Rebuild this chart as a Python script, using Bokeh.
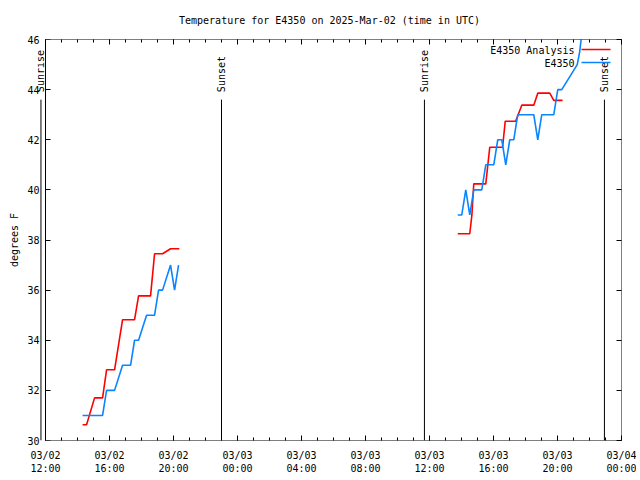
import math
import pandas as pd
from bokeh.plotting import figure
from bokeh.core.properties import value
from bokeh.models import (Range1d, FixedTicker, LinearAxis, Label, LabelSet, Title,
                          Arrow, ColumnDataSource, BoxAnnotation)
from bokeh.embed import file_html
from bokeh.resources import INLINE

# ---------------- data ----------------
START = "2025-03-02 12:00"
END = "2025-03-04 00:00"

analysis_day1_time = ["2025-03-02 14:19", "2025-03-02 14:34", "2025-03-02 15:04", "2025-03-02 15:34",
                      "2025-03-02 15:49", "2025-03-02 16:19", "2025-03-02 16:49", "2025-03-02 17:34",
                      "2025-03-02 17:49", "2025-03-02 18:34", "2025-03-02 18:49", "2025-03-02 19:19",
                      "2025-03-02 19:49", "2025-03-02 20:22"]
analysis_day1_temp = [30.63, 30.63, 31.70, 31.70, 32.82, 32.82, 34.82, 34.82,
                      35.77, 35.77, 37.45, 37.45, 37.65, 37.65]

obs_day1_time = ["2025-03-02 14:19", "2025-03-02 15:34", "2025-03-02 15:49", "2025-03-02 16:19",
                 "2025-03-02 16:49", "2025-03-02 17:19", "2025-03-02 17:34", "2025-03-02 17:49",
                 "2025-03-02 18:19", "2025-03-02 18:49", "2025-03-02 19:04", "2025-03-02 19:19",
                 "2025-03-02 19:49", "2025-03-02 20:04", "2025-03-02 20:19"]
obs_day1_temp = [31, 31, 32, 32, 33, 33, 34, 34, 35, 35, 36, 36, 37, 36, 37]

analysis_day2_time = ["2025-03-03 13:46", "2025-03-03 14:31", "2025-03-03 14:39", "2025-03-03 14:46",
                      "2025-03-03 15:31", "2025-03-03 15:46", "2025-03-03 16:34", "2025-03-03 16:44",
                      "2025-03-03 17:23", "2025-03-03 17:46", "2025-03-03 18:31", "2025-03-03 18:46",
                      "2025-03-03 19:31", "2025-03-03 19:46", "2025-03-03 20:19"]
analysis_day2_temp = [38.25, 38.25, 39.0, 40.24, 40.24, 41.70, 41.70, 42.74,
                      42.74, 43.38, 43.38, 43.86, 43.86, 43.57, 43.57]

obs_day2_time = ["2025-03-03 13:46", "2025-03-03 14:01", "2025-03-03 14:16", "2025-03-03 14:31",
                 "2025-03-03 14:46", "2025-03-03 15:16", "2025-03-03 15:31", "2025-03-03 16:01",
                 "2025-03-03 16:16", "2025-03-03 16:31", "2025-03-03 16:46", "2025-03-03 17:01",
                 "2025-03-03 17:16", "2025-03-03 17:31", "2025-03-03 18:31", "2025-03-03 18:46",
                 "2025-03-03 19:01", "2025-03-03 19:46", "2025-03-03 20:01", "2025-03-03 20:16",
                 "2025-03-03 21:14", "2025-03-03 21:23", "2025-03-03 21:32"]
obs_day2_temp = [39, 39, 40, 39, 40, 40, 41, 41, 42, 42, 41, 42, 42, 43, 43, 42,
                 43, 43, 44, 44, 45, 45.5, 46.3]

sun_time = ["2025-03-02 11:43", "2025-03-02 23:00", "2025-03-03 11:41", "2025-03-03 22:56"]
sun_label = ["Sunrise", "Sunset", "Sunrise", "Sunset"]
sun_line_top = 43.6
sun_text_base = 43.9

x_tick_labels = ["03/02\n12:00", "03/02\n16:00", "03/02\n20:00", "03/03\n00:00", "03/03\n04:00",
                 "03/03\n08:00", "03/03\n12:00", "03/03\n16:00", "03/03\n20:00", "03/04\n00:00"]
y_ticks = [30, 32, 34, 36, 38, 40, 42, 44, 46]
Y_MIN, Y_MAX = 30, 46

TITLE = "Temperature for E4350 on 2025-Mar-02 (time in UTC)"
Y_LABEL = "degrees F"
LEGEND = ["E4350 Analysis", "E4350"]
RED = "#ff0000"
BLUE = "#0a84ff"
FONT = "DejaVu Sans Mono"
FS = "10px"

t0 = pd.Timestamp(START)


def hours(ts):
    return [(pd.Timestamp(t) - t0).total_seconds() / 3600.0 for t in ts]


x_end = hours([END])[0]
x_ticks = [4 * i for i in range(len(x_tick_labels))]

# frame is extended 0.5 h left of the time axis so that the first sunrise marker shows
p = figure(width=636, height=476, output_backend="svg", toolbar_location=None,
           x_range=Range1d(-0.5, x_end), y_range=Range1d(Y_MIN, Y_MAX))
p.min_border_left = 37
p.min_border_right = 15
p.min_border_top = 39
p.min_border_bottom = 36
p.outline_line_color = None
p.xgrid.visible = False
p.ygrid.visible = False
p.background_fill_color = "white"
p.border_fill_color = "white"

xt = FixedTicker(ticks=x_ticks, minor_ticks=list(range(0, int(x_end) + 1)))
yt = FixedTicker(ticks=y_ticks, minor_ticks=[])


def style_axis(ax, labels=True):
    ax.axis_line_color = None
    ax.major_tick_in = 5
    ax.major_tick_out = 0
    ax.minor_tick_in = 3
    ax.minor_tick_out = 0
    ax.major_tick_line_color = "black"
    ax.minor_tick_line_color = "black"
    ax.major_label_text_font = FONT
    ax.major_label_text_color = "black"
    if labels:
        ax.major_label_text_font_size = FS
    else:
        ax.major_label_text_font_size = "0px"
        ax.major_label_standoff = 0


xa = p.xaxis[0]
xa.ticker = xt
xa.major_label_overrides = {t: lab for t, lab in zip(x_ticks, x_tick_labels)}
style_axis(xa)
xa.major_label_standoff = 9

# left axis at the frame edge: labels only
ya = p.yaxis[0]
ya.ticker = yt
style_axis(ya)
ya.major_tick_in = 0
ya.major_tick_line_color = None
ya.major_label_standoff = -2

# tick marks on the time-axis start (x = 0)
y_ticks_ax = LinearAxis(ticker=yt, fixed_location=0)
style_axis(y_ticks_ax, labels=False)
p.add_layout(y_ticks_ax, "left")

top_ax = LinearAxis(ticker=xt)
style_axis(top_ax, labels=False)
top_ax.axis_label = TITLE
top_ax.axis_label_text_font = FONT
top_ax.axis_label_text_font_size = FS
top_ax.axis_label_text_font_style = "normal"
top_ax.axis_label_text_color = "black"
top_ax.axis_label_standoff = 14
p.add_layout(top_ax, "above")

right_ax = LinearAxis(ticker=yt)
style_axis(right_ax, labels=False)
p.add_layout(right_ax, "right")

p.add_layout(Title(text=Y_LABEL, align="center", text_font=FONT, text_font_size=FS,
                   text_font_style="normal", text_color="black", standoff=10, offset=0), "left")

# plot border (gnuplot box) spanning the time axis
p.add_layout(BoxAnnotation(left=0, right=x_end, bottom=Y_MIN, top=Y_MAX, fill_alpha=0,
                           line_color="black", line_width=1, line_alpha=1))

# sunrise / sunset markers
sun_x = hours(sun_time)
sun_src = ColumnDataSource(dict(x=sun_x, y0=[Y_MIN] * len(sun_x), y1=[sun_line_top] * len(sun_x),
                                yt=[sun_text_base] * len(sun_x), text=sun_label))
p.add_layout(Arrow(x_start="x", y_start="y0", x_end="x", y_end="y1", source=sun_src,
                   start=None, end=None, line_color="black", line_width=1))
p.add_layout(LabelSet(x="x", y="yt", text="text", source=sun_src, angle=math.pi / 2,
                      text_align="left", text_baseline="middle", text_font=value(FONT),
                      text_font_size=value(FS), text_color="black"))

# data lines
p.line(hours(analysis_day1_time), analysis_day1_temp, line_color=RED, line_width=1.6)
p.line(hours(analysis_day2_time), analysis_day2_temp, line_color=RED, line_width=1.6)
p.line(hours(obs_day1_time), obs_day1_temp, line_color=BLUE, line_width=1.6)
p.line(hours(obs_day2_time), obs_day2_temp, line_color=BLUE, line_width=1.6)

# legend (gnuplot style: text then sample to the right), frame-relative screen units
for i, (name, col) in enumerate(zip(LEGEND, [RED, BLUE])):
    ly = 390 - 13 * i
    p.add_layout(Label(x=537, y=ly, x_units="screen", y_units="screen", text=name,
                       text_align="right", text_baseline="middle", text_font=FONT,
                       text_font_size=FS, text_color="black"))
    p.add_layout(Arrow(x_start=544, y_start=ly + 1, x_end=573, y_end=ly + 1,
                       start_units="screen", end_units="screen", start=None, end=None,
                       line_color=col, line_width=1.6))

open("out.html", "w").write(file_html(p, INLINE))
